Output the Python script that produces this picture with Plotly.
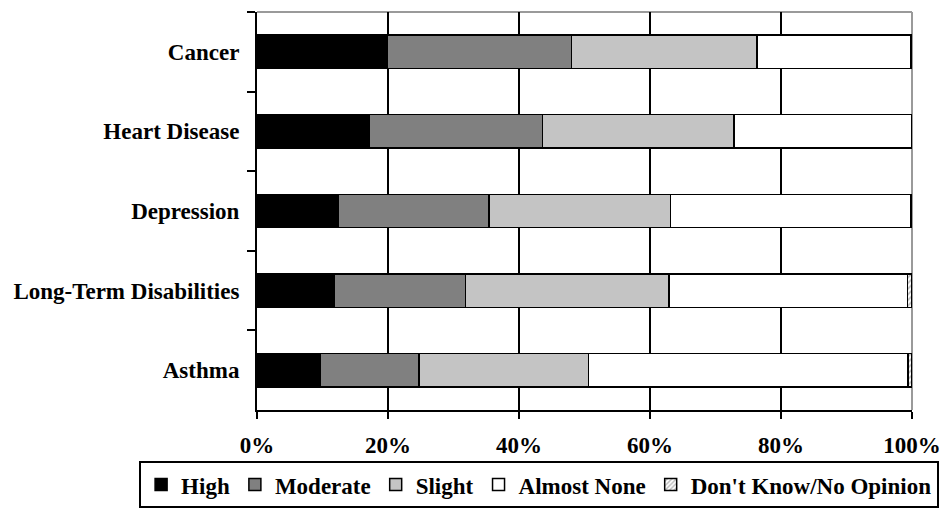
import plotly.graph_objects as go

categories = ["Cancer", "Heart Disease", "Depression", "Long-Term Disabilities", "Asthma"]
high = [19.9, 17.2, 12.4, 11.8, 9.6]
moderate = [28.1, 26.4, 23.0, 20.0, 15.1]
slight = [28.3, 29.2, 27.7, 31.1, 25.9]
almost_none = [23.5, 27.2, 36.7, 36.4, 48.8]
dont_know = [0.2, 0.0, 0.2, 0.7, 0.6]

series = [
    ("High", high, "#000000", ""),
    ("Moderate", moderate, "#808080", ""),
    ("Slight", slight, "#c4c4c4", ""),
    ("Almost None", almost_none, "#ffffff", ""),
    ("Don't Know/No Opinion", dont_know, "#ffffff", "/"),
]

FONT = "Liberation Serif, Times New Roman, serif"

fig = go.Figure()
for name, vals, color, pat in series:
    marker = dict(color=color, line=dict(color="black", width=1.5))
    if pat:
        marker["pattern"] = dict(shape=pat, fgcolor="#707070", bgcolor="#ffffff", size=4, solidity=0.45)
    fig.add_trace(go.Bar(
        y=categories, x=vals, name=name, orientation="h", marker=marker,
    ))

fig.update_layout(
    width=944, height=510,
    margin=dict(l=257, r=32, t=12, b=100, autoexpand=False),
    barmode="stack",
    bargap=0.58,
    plot_bgcolor="white",
    paper_bgcolor="white",
    font=dict(family=FONT, size=23, color="black", weight="bold"),
    showlegend=True,
    legend=dict(
        orientation="h",
        x=-0.18, xanchor="left",
        y=-0.2465, yanchor="bottom",
        bordercolor="black", borderwidth=2,
        font=dict(family=FONT, size=23, color="black", weight="bold"),
        itemwidth=30,
        traceorder="normal",
    ),
    xaxis=dict(
        range=[0, 100],
        tickvals=[0, 20, 40, 60, 80, 100],
        ticktext=["0%", "20%", "40%", "60%", "80%", "100%"],
        showgrid=False,
        minor=dict(tickvals=[20, 40, 60, 80], showgrid=True, gridcolor="black", gridwidth=2, ticks=""),
        showline=True, linecolor="black", linewidth=2,
        ticks="outside", ticklen=7, tickwidth=2, tickcolor="black",
        zeroline=False,
        ticklabelstandoff=6,
    ),
    yaxis=dict(
        autorange="reversed",
        showgrid=False,
        showline=True, linecolor="black", linewidth=2,
        ticks="outside", ticklen=8, tickwidth=2, tickcolor="black",
        tickson="boundaries",
        ticklabelstandoff=11,
    ),
    shapes=[
        dict(type="line", xref="paper", yref="paper", x0=0, x1=1, y0=1, y1=1,
             line=dict(color="#9a9a9a", width=2), layer="below"),
        dict(type="line", xref="paper", yref="paper", x0=1, x1=1, y0=0, y1=1,
             line=dict(color="#9a9a9a", width=2), layer="below"),
    ],
)

fig.write_html("out.html")
